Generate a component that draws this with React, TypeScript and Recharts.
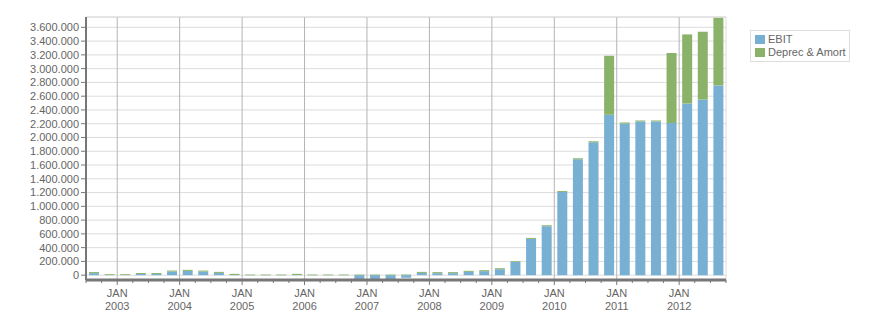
import React from "react";
import {
  Bar,
  XAxis,
  YAxis,
  BarChart,
  CartesianGrid,
  ReferenceLine,
} from "recharts";

// quarters shown, one bar each (Q3 2002 .. Q3 2012)
const quarters = [
  "2002 Q3", "2002 Q4",
  "2003 Q1", "2003 Q2", "2003 Q3", "2003 Q4",
  "2004 Q1", "2004 Q2", "2004 Q3", "2004 Q4",
  "2005 Q1", "2005 Q2", "2005 Q3", "2005 Q4",
  "2006 Q1", "2006 Q2", "2006 Q3", "2006 Q4",
  "2007 Q1", "2007 Q2", "2007 Q3", "2007 Q4",
  "2008 Q1", "2008 Q2", "2008 Q3", "2008 Q4",
  "2009 Q1", "2009 Q2", "2009 Q3", "2009 Q4",
  "2010 Q1", "2010 Q2", "2010 Q3", "2010 Q4",
  "2011 Q1", "2011 Q2", "2011 Q3", "2011 Q4",
  "2012 Q1", "2012 Q2", "2012 Q3",
];

const ebit = [
  30000, 2000, 2000, 18000, 18000, 52000, 62000, 52000, 33000, 2000,
  -3000, -3000, -3000, 2000, -3000, -3000, -3000, -58000, -58000, -58000,
  -38000, 33000, 29000, 29000, 48000, 58000, 87000, 190000, 527000, 711000,
  1209000, 1683000, 1930000, 2330000, 2203000, 2233000, 2233000, 2209000,
  2494000, 2552000, 2756000,
];

const deprecAmort = [
  15000, 12000, 12000, 14000, 14000, 15000, 15000, 15000, 15000, 17000,
  9000, 9000, 9000, 17000, 9000, 9000, 9000, 9000, 9000, 9000,
  9000, 15000, 15000, 15000, 15000, 15000, 14000, 13000, 14000, 14000,
  14000, 15000, 15000, 857000, 15000, 14000, 14000, 1018000,
  1003000, 984000, 984000,
];

const yTicks = [
  0, 200000, 400000, 600000, 800000, 1000000, 1200000, 1400000, 1600000,
  1800000, 2000000, 2200000, 2400000, 2600000, 2800000, 3000000, 3200000,
  3400000, 3600000,
];
const yDomain = [-70000, 3750000];

const series = [
  { key: "ebit", name: "EBIT", color: "#78b0d4" },
  { key: "deprec", name: "Deprec & Amort", color: "#8ab268" },
];

const data = quarters.map((q, i) => ({
  quarter: q,
  ebit: ebit[i],
  deprec: deprecAmort[i],
}));

const yearStarts = quarters.filter((q) => q.endsWith("Q1"));
const lastQuarter = quarters[quarters.length - 1];

const FONT = "'Liberation Sans', Arial, sans-serif";
const TEXT = "#666";
const AXIS = "#777";

const fmt = (v: number) =>
  String(v).replace(/\B(?=(\d{3})+(?!\d))/g, ".");

// left edge and width of a quarter's band on the x axis
function band(xAxis: any, offset: any, q: string) {
  const s = xAxis && xAxis.scale;
  let start: number | undefined;
  if (typeof s === "function") start = s(q);
  else if (s && typeof s.map === "function") start = s.map(q);
  let bw =
    s && typeof s.bandwidth === "function" ? s.bandwidth() : undefined;
  if (bw === undefined) bw = offset.width / quarters.length;
  if (typeof start !== "number" || isNaN(start))
    start = offset.left + quarters.indexOf(q) * bw;
  return { start, bw };
}

function QuarterTick(props: any) {
  const { x, y, payload } = props;
  const q = payload.value as string;
  const half = payload.offset || 0;
  const left = x - half;
  const major = q.endsWith("Q1");
  return (
    <g>
      <line x1={left} x2={left} y1={y} y2={y + (major ? 5 : 3)} stroke={AXIS} />
      {q === lastQuarter && (
        <line x1={x + half} x2={x + half} y1={y} y2={y + 3} stroke={AXIS} />
      )}
      {major && (
        <text x={left} y={y + 17} textAnchor="middle" fill={TEXT} fontSize={11}>
          JAN
        </text>
      )}
      {major && (
        <text x={left} y={y + 30} textAnchor="middle" fill={TEXT} fontSize={11}>
          {q.slice(0, 4)}
        </text>
      )}
    </g>
  );
}

export default function App() {
  return (
    <div
      style={{
        position: "absolute",
        left: 0,
        top: 0,
        width: 876,
        height: 313,
        fontFamily: FONT,
        background: "#fff",
      }}
    >
      <BarChart
        width={876}
        height={313}
        data={data}
        stackOffset="sign"
        margin={{ top: 17, right: 150, bottom: 0, left: 0 }}
      >
        <XAxis
          dataKey="quarter"
          interval={0}
          height={33}
          tickSize={0}
          tickMargin={0}
          tickLine={false}
          axisLine={{ stroke: AXIS, strokeWidth: 3 }}
          tick={<QuarterTick />}
        />
        <YAxis
          width={86}
          domain={yDomain}
          ticks={yTicks}
          interval={0}
          allowDataOverflow
          tickFormatter={fmt}
          tickSize={5}
          tickMargin={2}
          tick={{ fill: TEXT, fontSize: 11 }}
          tickLine={{ stroke: AXIS }}
          axisLine={{ stroke: AXIS, strokeWidth: 2 }}
        />
        <CartesianGrid vertical={false} stroke="#dcdcdc" />
        <CartesianGrid
          horizontal={false}
          stroke="#dcdcdc"
          verticalCoordinatesGenerator={({ xAxis, offset }: any) => {
            const b = band(xAxis, offset, lastQuarter);
            return [b.start + b.bw];
          }}
        />
        <CartesianGrid
          horizontal={false}
          stroke="#b4b4b4"
          verticalCoordinatesGenerator={({ xAxis, offset }: any) =>
            yearStarts.map((q) => band(xAxis, offset, q).start)
          }
        />
        <ReferenceLine y={yDomain[1]} stroke="#dcdcdc" />
        {series.map((s) => (
          <Bar
            key={s.key}
            dataKey={s.key}
            name={s.name}
            stackId="a"
            fill={s.color}
            barSize={10}
            isAnimationActive={false}
          />
        ))}
      </BarChart>
      <div
        style={{
          position: "absolute",
          left: 750,
          top: 30,
          border: "1px solid #ddd",
          padding: "2px 3px 2px 4px",
          fontSize: 11,
          color: TEXT,
          lineHeight: "13px",
          background: "#fff",
        }}
      >
        {series.map((s) => (
          <div key={s.key} style={{ display: "flex", alignItems: "center" }}>
            <span
              style={{
                width: 10,
                height: 9,
                background: s.color,
                marginRight: 3,
                display: "inline-block",
              }}
            />
            <span style={{ whiteSpace: "nowrap" }}>{s.name}</span>
          </div>
        ))}
      </div>
    </div>
  );
}
